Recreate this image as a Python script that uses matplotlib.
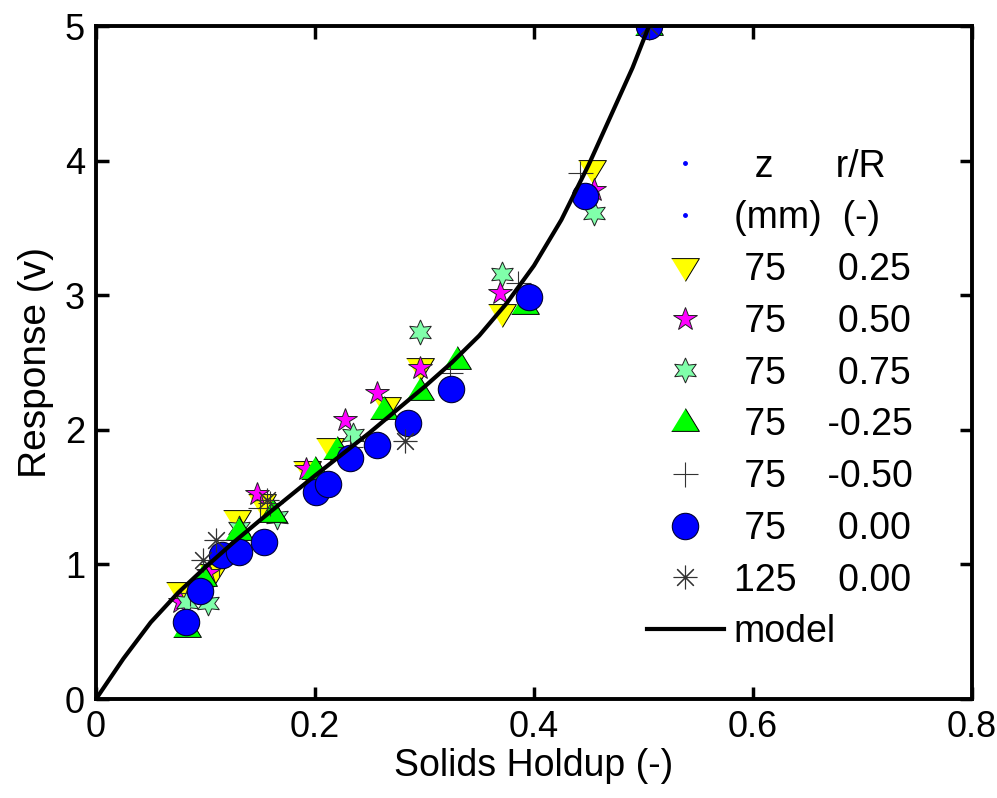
import matplotlib
matplotlib.use("Agg")
import matplotlib.pyplot as plt

plt.rcParams["font.family"] = ["Liberation Sans", "DejaVu Sans"]

# model curve
model_x = [0, 0.025, 0.05, 0.075, 0.10, 0.125, 0.15, 0.20, 0.25, 0.275, 0.30, 0.325,
           0.35, 0.375, 0.40, 0.425, 0.45, 0.475, 0.49, 0.505]
model_y = [0, 0.30, 0.57, 0.79, 0.98, 1.16, 1.33, 1.66, 1.98, 2.15, 2.32, 2.50,
           2.70, 2.94, 3.22, 3.56, 3.97, 4.42, 4.69, 5.0]

# z = 75 mm, r/R = 0.25
r025_x = [0.077, 0.107, 0.129, 0.152, 0.193, 0.214, 0.266, 0.296, 0.371, 0.453, 0.505]
r025_y = [0.80, 0.94, 1.34, 1.46, 1.70, 1.87, 2.18, 2.47, 2.87, 3.94, 5.0]

# z = 75 mm, r/R = 0.50
r050_x = [0.077, 0.102, 0.147, 0.192, 0.227, 0.257, 0.296, 0.369, 0.455, 0.505]
r050_y = [0.72, 0.94, 1.52, 1.71, 2.07, 2.27, 2.46, 3.02, 3.78, 5.0]

# z = 75 mm, r/R = 0.75
r075_x = [0.083, 0.102, 0.131, 0.165, 0.235, 0.296, 0.371, 0.455, 0.505]
r075_y = [0.72, 0.71, 1.27, 1.35, 1.96, 2.73, 3.16, 3.61, 5.0]

# z = 75 mm, r/R = -0.25
rm025_x = [0.083, 0.098, 0.131, 0.162, 0.200, 0.220, 0.263, 0.296, 0.330, 0.392, 0.505]
rm025_y = [0.53, 0.91, 1.25, 1.38, 1.70, 1.85, 2.15, 2.29, 2.52, 2.93, 5.0]

# z = 75 mm, r/R = -0.50
rm050_x = [0.086, 0.112, 0.150, 0.159, 0.232, 0.323, 0.385, 0.442, 0.505]
rm050_y = [0.79, 1.00, 1.42, 1.46, 1.87, 2.42, 3.09, 3.91, 5.0]

# z = 75 mm, r/R = 0.00
r000_x = [0.082, 0.095, 0.115, 0.131, 0.153, 0.201, 0.212, 0.232, 0.257, 0.285, 0.324, 0.395, 0.447, 0.505]
r000_y = [0.57, 0.80, 1.07, 1.09, 1.17, 1.54, 1.60, 1.79, 1.89, 2.05, 2.30, 2.99, 3.74, 5.0]

# z = 125 mm, r/R = 0.00
z125_x = [0.098, 0.110, 0.156, 0.282, 0.505]
z125_y = [1.03, 1.18, 1.48, 1.92, 5.0]

labels = ["  z      r/R", "(mm)  (-)", " 75     0.25", " 75     0.50", " 75     0.75",
          " 75    -0.25", " 75    -0.50", " 75     0.00", "125    0.00", "model"]

fig = plt.figure(figsize=(9.97, 7.98), dpi=100)
ax = fig.add_axes([0.0963, 0.124, 0.8786, 0.8434])

tri_down = [(-1, 0.64), (1, 0.64), (0, -1.0)]
tri_up = [(-1, -0.64), (1, -0.64), (0, 1.0)]

h = []
h += ax.plot([0], [0], ".", color="blue", ms=5, ls="none")
h += ax.plot([0], [0], ".", color="blue", ms=5, ls="none")
h += ax.plot(r025_x, r025_y, marker=tri_down, ls="none", ms=20, mfc="#ffff00", mec="k", mew=0.7)
h += ax.plot(r050_x, r050_y, marker="*", ls="none", ms=17.5, mfc="#ff00ff", mec="#222222", mew=0.7)
h += ax.plot(r075_x, r075_y, marker=(6, 1, 0), ls="none", ms=18, mfc="#80ffaa", mec="#222222", mew=0.7)
h += ax.plot(rm025_x, rm025_y, marker=tri_up, ls="none", ms=20, mfc="#00ff00", mec="k", mew=0.7)
h += ax.plot(rm050_x, rm050_y, marker="+", ls="none", ms=18, mec="#333333", mew=0.8)
h += ax.plot(r000_x, r000_y, marker="o", ls="none", ms=19, mfc="#0000ff", mec="#000033", mew=0.8)
h += ax.plot(z125_x, z125_y, marker=(8, 2, 0), ls="none", ms=17, mec="#333333", mew=0.8)
h += ax.plot(model_x, model_y, color="k", lw=3)

ax.set_xlim(0, 0.8)
ax.set_ylim(0, 5)
ax.set_xticks([0, 0.2, 0.4, 0.6, 0.8])
ax.set_xticklabels(["0", "0.2", "0.4", "0.6", "0.8"])
ax.set_yticks([0, 1, 2, 3, 4, 5])
ax.tick_params(direction="in", length=9, width=2.5, labelsize=26, top=True, right=True, pad=8)
for s in ax.spines.values():
    s.set_linewidth(2.8)

ax.set_xlabel("Solids Holdup (-)", fontsize=27, labelpad=2)
ax.set_ylabel("Response (v)", fontsize=28, labelpad=8)

ax.legend(h, labels, loc="upper left", bbox_to_anchor=(0.629, 0.818), frameon=False,
          fontsize=27, borderpad=0, borderaxespad=0, handlelength=2.05, handletextpad=0.26,
          labelspacing=0.42, numpoints=1)

fig.savefig("out.png", dpi=100)
